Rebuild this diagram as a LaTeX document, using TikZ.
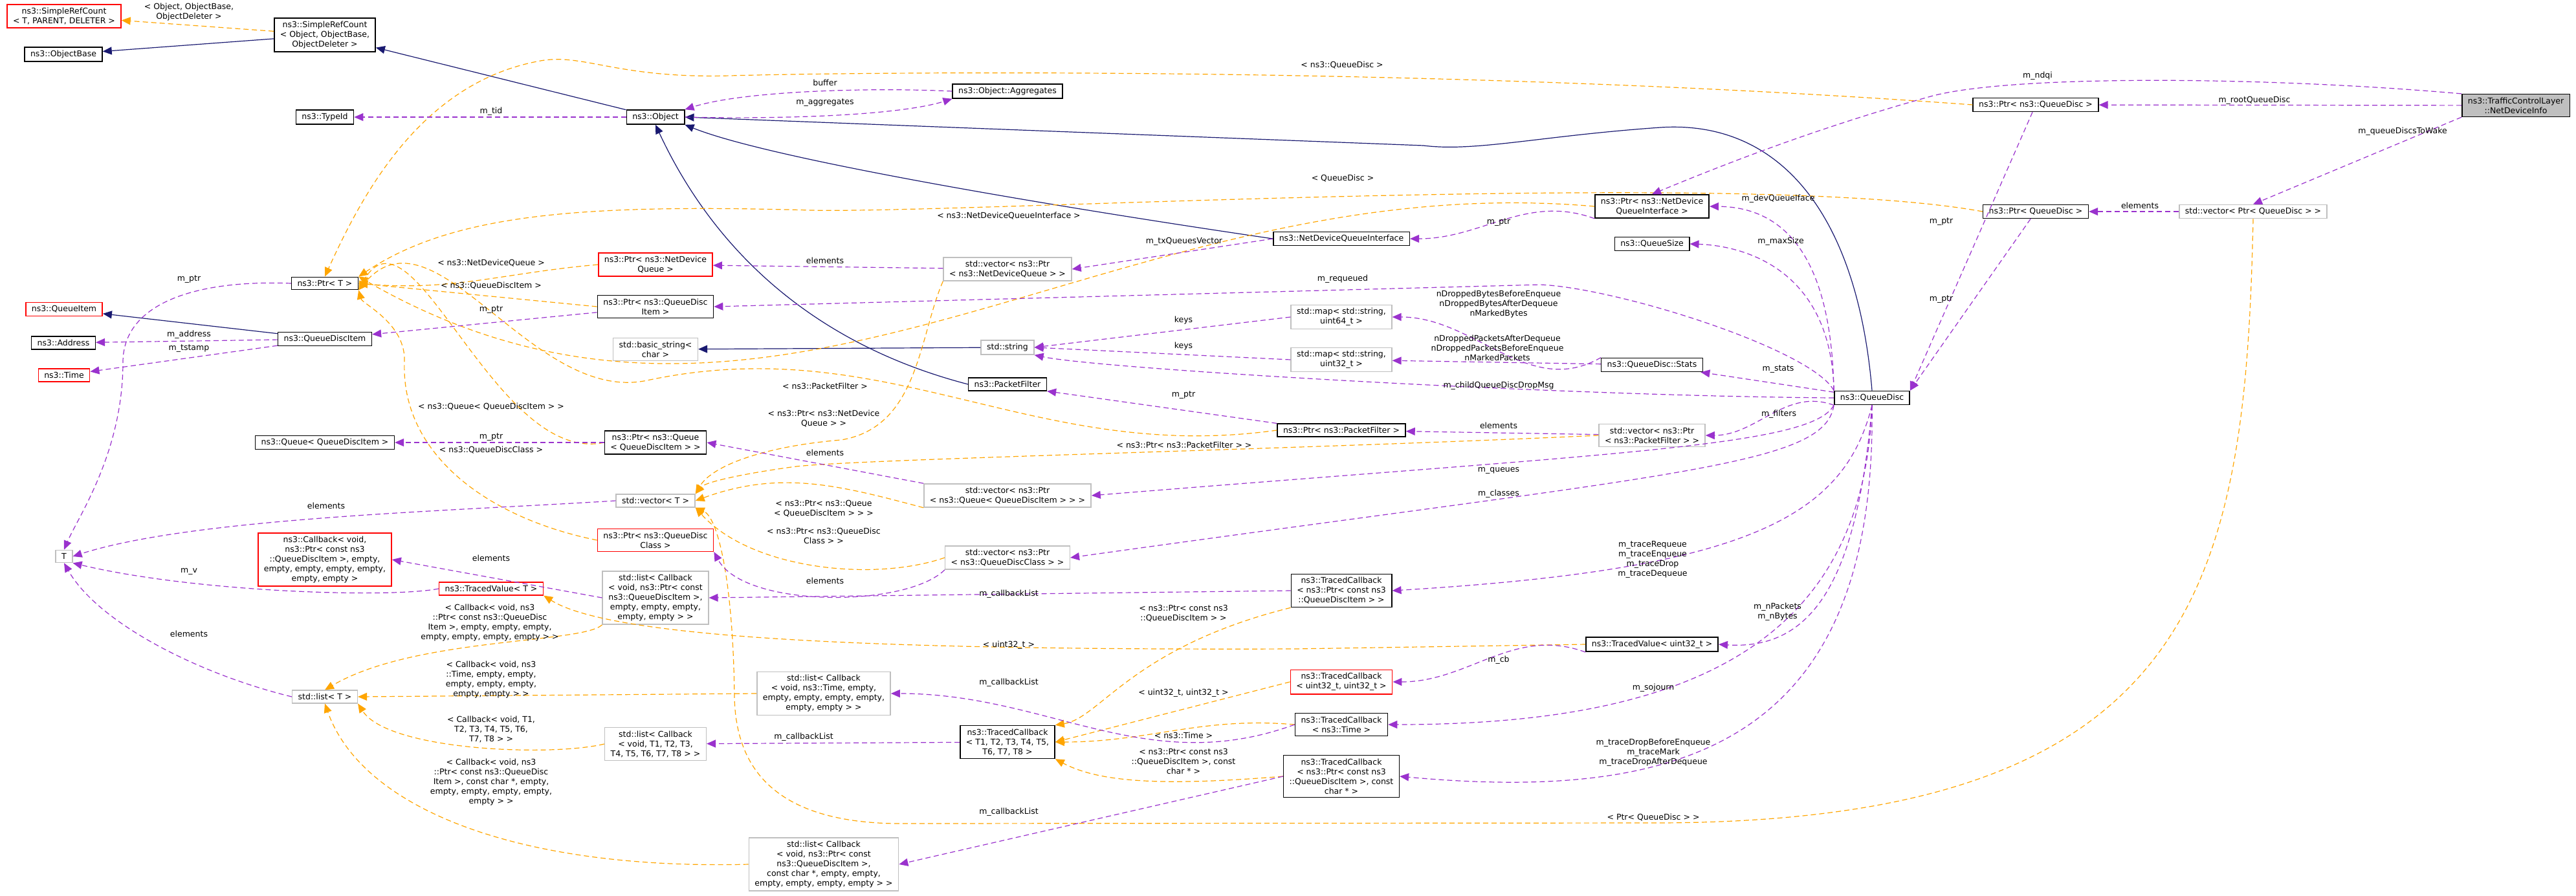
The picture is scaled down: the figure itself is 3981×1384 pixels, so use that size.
\documentclass[tikz,border=0pt]{standalone}
\usepackage{fontspec}
\setmainfont{DejaVu Sans}
\usetikzlibrary{arrows.meta}
\definecolor{inhcol}{RGB}{25,25,112}
\definecolor{usecol}{RGB}{154,50,205}
\definecolor{tplcol}{RGB}{255,165,0}
\definecolor{redcol}{RGB}{255,0,0}
\definecolor{extcol}{RGB}{191,191,191}
\tikzset{every picture/.style={line width=0.3pt}}
\tikzset{
  cls/.style={draw=black,fill=white,align=center,inner xsep=2.25pt,inner ysep=1.25pt,line width=0.375pt},
  redcls/.style={cls,draw=redcol},
  extcls/.style={cls,draw=extcol},
  curcls/.style={cls,fill=extcol},
  lbl/.style={align=center,inner sep=0.25pt},
  inh/.style={draw=inhcol,-{Triangle[length=3.5pt,width=3pt]}},
  usg/.style={draw=usecol,dash pattern=on 2pt off 1.25pt,-{Triangle[length=3.5pt,width=3pt]}},
  tpl/.style={draw=tplcol,dash pattern=on 2pt off 1.25pt,-{Triangle[length=3.5pt,width=3pt]}}
}

\begin{document}
\begin{tikzpicture}[x=0.25pt,y=0.25pt,yscale=-1,font=\fontsize{3.125}{3.75}\selectfont]
\useasboundingbox (0,0) rectangle (3981,1384);

% Classes, left column
\node[redcls] (srct) at (99,25) {ns3::SimpleRefCount\\< T, PARENT, DELETER >};
\node[cls] (objbase) at (98,84) {ns3::ObjectBase};
\node[redcls] (queueitem) at (99,478) {ns3::QueueItem};
\node[cls] (address) at (98,530) {ns3::Address};
\node[redcls] (time) at (99,580) {ns3::Time};
\node[extcls] (t) at (99,860) {T};

% second column
\node[cls] (srcobj) at (502,54) {ns3::SimpleRefCount\\< Object, ObjectBase,\\ObjectDeleter >};
\node[cls] (typeid) at (502,181) {ns3::TypeId};
\node[cls] (ptrt) at (502,438) {ns3::Ptr< T >};
\node[cls] (qditem) at (502,524) {ns3::QueueDiscItem};
\node[cls] (queueqdi) at (502,684) {ns3::Queue< QueueDiscItem >};
\node[redcls] (callback) at (502,865) {ns3::Callback< void,\\ns3::Ptr< const ns3\\::QueueDiscItem >, empty,\\empty, empty, empty, empty,\\empty, empty >};
\node[extcls] (listt) at (502,1077) {std::list< T >};
\node[redcls] (tracedvalt) at (759,910) {ns3::TracedValue< T >};

% third column
\node[cls] (object) at (1013,181) {ns3::Object};
\node[redcls] (ptrndq) at (1013,409) {ns3::Ptr< ns3::NetDevice\\Queue >};
\node[cls] (ptrqdi) at (1013,474) {ns3::Ptr< ns3::QueueDisc\\Item >};
\node[extcls] (basicstr) at (1013,540) {std::basic\_string<\\char >};
\node[cls] (ptrqueue) at (1013,684) {ns3::Ptr< ns3::Queue\\< QueueDiscItem > >};
\node[extcls] (stdvect) at (1013,774) {std::vector< T >};
\node[redcls] (ptrqdc) at (1013,835) {ns3::Ptr< ns3::QueueDisc\\Class >};
\node[extcls] (listqdi) at (1013,924) {std::list< Callback\\< void, ns3::Ptr< const\\ns3::QueueDiscItem >,\\empty, empty, empty,\\empty, empty > >};
\node[extcls] (listt18) at (1013,1150) {std::list< Callback\\< void, T1, T2, T3,\\T4, T5, T6, T7, T8 > >};

% fourth column
\node[cls] (aggregates) at (1557,141) {ns3::Object::Aggregates};
\node[extcls] (vecptrndq) at (1557,416) {std::vector< ns3::Ptr\\< ns3::NetDeviceQueue > >};
\node[extcls] (string) at (1557,537) {std::string};
\node[cls] (pktfilter) at (1557,594) {ns3::PacketFilter};
\node[extcls] (vecptrqueue) at (1557,766) {std::vector< ns3::Ptr\\< ns3::Queue< QueueDiscItem > > >};
\node[extcls] (vecptrqdc) at (1557,862) {std::vector< ns3::Ptr\\< ns3::QueueDiscClass > >};
\node[extcls] (listtime) at (1273,1072) {std::list< Callback\\< void, ns3::Time, empty,\\empty, empty, empty, empty,\\empty, empty > >};
\node[cls] (tcbt) at (1557,1147) {ns3::TracedCallback\\< T1, T2, T3, T4, T5,\\T6, T7, T8 >};
\node[extcls] (listqdichar) at (1273,1336) {std::list< Callback\\< void, ns3::Ptr< const\\ns3::QueueDiscItem >,\\const char *, empty, empty,\\empty, empty, empty, empty > >};

% fifth column
\node[cls] (ndqi) at (2073,369) {ns3::NetDeviceQueueInterface};
\node[extcls] (mapu64) at (2073,490) {std::map< std::string,\\uint64\_t >};
\node[extcls] (mapu32) at (2073,556) {std::map< std::string,\\uint32\_t >};
\node[cls] (ptrpf) at (2073,665) {ns3::Ptr< ns3::PacketFilter >};
\node[cls] (tcbqdi) at (2073,913) {ns3::TracedCallback\\< ns3::Ptr< const ns3\\::QueueDiscItem > >};
\node[redcls] (tcbu32) at (2073,1054) {ns3::TracedCallback\\< uint32\_t, uint32\_t >};
\node[cls] (tcbtime) at (2073,1120) {ns3::TracedCallback\\< ns3::Time >};
\node[cls] (tcbqdichar) at (2073,1200) {ns3::TracedCallback\\< ns3::Ptr< const ns3\\::QueueDiscItem >, const\\char * >};

% sixth column
\node[cls] (ptrndqi) at (2553,319) {ns3::Ptr< ns3::NetDevice\\QueueInterface >};
\node[cls] (queuesize) at (2553,377) {ns3::QueueSize};
\node[cls] (stats) at (2553,564) {ns3::QueueDisc::Stats};
\node[extcls] (vecpf) at (2553,673) {std::vector< ns3::Ptr\\< ns3::PacketFilter > >};
\node[cls] (tvu32) at (2553,996) {ns3::TracedValue< uint32\_t >};
\node[cls] (queuedisc) at (2893,615) {ns3::QueueDisc};

% right part
\node[cls] (ptrqdns3) at (3146,162) {ns3::Ptr< ns3::QueueDisc >};
\node[cls] (ptrqd) at (3146,327) {ns3::Ptr< QueueDisc >};
\node[extcls] (vecptrqd) at (3482,327) {std::vector< Ptr< QueueDisc > >};
\node[curcls] (tcl) at (3888,163) {ns3::TrafficControlLayer\\::NetDeviceInfo};

% Inheritance
\draw[inh] (srcobj) -- (objbase);
\draw[inh] (object) -- (srcobj);
\draw[inh] (ndqi.west) .. controls (1700,330) and (1200,250) .. (object.south east);
\draw[inh] (pktfilter.west) .. controls (1250,530) and (1100,380) .. (object.south);
\draw[inh] (queuedisc.north) .. controls (2870,330) and (2750,185) .. (2566,197) .. controls (2380,210) and (2280,235) .. (2200,225) -- (object.east);
\draw[inh] (qditem) -- (queueitem);
\draw[inh] (string) -- (basicstr);

% Template instances
\draw[tpl] (srcobj) -- (srct);
\draw[tpl] (ptrqdns3.west) .. controls (2200,100) and (1300,112) .. (1128,117) .. controls (950,122) and (900,80) .. (830,95) .. controls (650,130) and (560,300) .. (ptrt.north);
\draw[tpl] (ptrqd.west) .. controls (2700,260) and (1500,330) .. (1255,325) .. controls (900,315) and (700,330) .. (ptrt.north east);
\draw[tpl] (ptrndqi.west) to[out=185,in=30] (ptrt.north east);
\draw[tpl] (ptrndq.west) to[out=175,in=5] (ptrt.east);
\draw[tpl] (ptrqdi.west) -- (ptrt.east);
\draw[tpl] (ptrpf.west) to[out=172,in=-12] (1000,588) to[out=168,in=-50] (ptrt.south east);
\draw[tpl] (ptrqueue.west) to[out=168,in=-62] (ptrt.south east);
\draw[tpl] (ptrqdc.west) .. controls (750,800) and (620,700) .. (625,560) .. controls (628,500) and (560,470) .. (ptrt.south east);
\draw[tpl] (vecptrndq.south west) .. controls (1420,520) and (1420,660) .. (1300,680) .. controls (1180,690) and (1100,720) .. (stdvect.north east);
\draw[tpl] (vecpf.west) .. controls (2000,695) and (1300,710) .. (1223,722) .. controls (1150,732) and (1090,745) .. (stdvect.north east);
\draw[tpl] (vecptrqueue.south west) to[out=195,in=-20] (stdvect.east);
\draw[tpl] (vecptrqdc.west) .. controls (1350,900) and (1160,880) .. (stdvect.south east);
\draw[tpl] (vecptrqd.south) .. controls (3470,900) and (3400,1272) .. (2555,1272) -- (1383,1273) .. controls (1200,1270) and (1137,1190) .. (1135,1077) .. controls (1133,900) and (1110,800) .. (stdvect.south east);
\draw[tpl] (tvu32.west) -- (2000,1003) .. controls (1400,1005) and (950,990) .. (tracedvalt.south east);
\draw[tpl] (listqdi.south west) .. controls (900,995) and (640,985) .. (listt.north);
\draw[tpl] (listtime.west) -- (listt.east);
\draw[tpl] (listt18.west) .. controls (850,1170) and (600,1160) .. (listt.south east);
\draw[tpl] (listqdichar.west) .. controls (800,1345) and (560,1250) .. (listt.south);
\draw[tpl] (tcbqdi.south west) .. controls (1750,1000) and (1700,1110) .. (tcbt.north east);
\draw[tpl] (tcbu32.west) -- (tcbt.east);
\draw[tpl] (tcbtime.west) to[out=185,in=0] (tcbt.east);
\draw[tpl] (tcbqdichar.west) .. controls (1800,1215) and (1700,1210) .. (tcbt.south east);

% Members
\draw[usg] (object) -- (typeid);
\draw[usg] (aggregates.west) .. controls (1350,135) and (1150,140) .. (object.north east);
\draw[usg] (object.east) .. controls (1250,185) and (1400,175) .. (aggregates.south west);
\draw[usg] (ptrt.west) .. controls (300,432) and (190,470) .. (190,560) .. controls (190,700) and (120,800) .. (t.north);
\draw[usg] (qditem) -- (address);
\draw[usg] (qditem) -- (time);
\draw[usg] (ptrqdi) -- (qditem);
\draw[usg] (ptrqueue) -- (queueqdi);
\draw[usg] (stdvect.west) .. controls (700,790) and (300,800) .. (t.east);
\draw[usg] (tracedvalt.west) .. controls (600,925) and (300,915) .. (t.south east);
\draw[usg] (listt.west) .. controls (300,1040) and (150,960) .. (t.south);
\draw[usg] (listqdi.west) -- (callback.east);
\draw[usg] (vecptrndq) -- (ptrndq);
\draw[usg] (ndqi.west) -- (vecptrndq.east);
\draw[usg] (ptrndqi.south west) to[out=200,in=0] (ndqi.east);
\draw[usg] (vecptrqueue.north west) -- (ptrqueue.east);
\draw[usg] (vecptrqdc.south west) .. controls (1400,940) and (1150,940) .. (ptrqdc.south east);
\draw[usg] (tcbqdi.west) -- (listqdi.east);
\draw[usg] (tcbt) -- (listt18);
\draw[usg] (tcbtime.west) to[out=160,in=0] (listtime.east);
\draw[usg] (tcbqdichar.west) -- (listqdichar.east);
\draw[usg] (mapu64.west) -- (string.east);
\draw[usg] (mapu32.west) -- (string.east);
\draw[usg] (queuedisc.west) .. controls (2400,612) and (1700,570) .. (string.south east);
\draw[usg] (stats.north west) to[out=150,in=0] (mapu64.east);
\draw[usg] (stats) -- (mapu32);
\draw[usg] (queuedisc) -- (stats);
\draw[usg] (queuedisc.north west) .. controls (2830,420) and (2700,380) .. (queuesize.east);
\draw[usg] (queuedisc.north west) .. controls (2830,400) and (2760,320) .. (ptrndqi.east);
\draw[usg] (queuedisc.north west) .. controls (2800,540) and (2500,445) .. (2380,440) -- (ptrqdi.east);
\draw[usg] (queuedisc.south west) to[out=200,in=0] (vecpf.east);
\draw[usg] (vecpf) -- (ptrpf);
\draw[usg] (ptrpf.north west) -- (pktfilter.south east);
\draw[usg] (queuedisc.south west) .. controls (2800,690) and (2500,700) .. (vecptrqueue.east);
\draw[usg] (queuedisc.south west) .. controls (2820,720) and (2600,730) .. (vecptrqdc.east);
\draw[usg] (queuedisc.south) .. controls (2850,800) and (2700,880) .. (tcbqdi.east);
\draw[usg] (queuedisc.south) .. controls (2870,900) and (2800,1005) .. (tvu32.east);
\draw[usg] (tvu32.south west) to[out=200,in=0] (tcbu32.east);
\draw[usg] (queuedisc.south) .. controls (2880,1000) and (2600,1120) .. (tcbtime.east);
\draw[usg] (queuedisc.south) .. controls (2900,1150) and (2600,1240) .. (tcbqdichar.east);
\draw[usg] (ptrqdns3) -- (queuedisc.north east);
\draw[usg] (ptrqd) -- (queuedisc.north east);
\draw[usg] (vecptrqd) -- (ptrqd);
\draw[usg] (tcl) -- (ptrqdns3);
\draw[usg] (tcl.north west) .. controls (3500,118) and (3100,115) .. (2980,150) .. controls (2800,200) and (2650,260) .. (ptrndqi.north);
\draw[usg] (tcl.south west) -- (vecptrqd.north);

% Text Nodes
\node[lbl] (l1) at (292,19) {< Object, ObjectBase,\\ObjectDeleter >};
\node[lbl] (l2) at (759,172) {m\_tid};
\node[lbl] (l3) at (1275,128) {buffer};
\node[lbl] (l4) at (1275,159) {m\_aggregates};
\node[lbl] (l5) at (2074,101) {< ns3::QueueDisc >};
\node[lbl] (l6) at (3149,117) {m\_ndqi};
\node[lbl] (l7) at (3484,155) {m\_rootQueueDisc};
\node[lbl] (l8) at (3713,203) {m\_queueDiscsToWake};
\node[lbl] (l9) at (2075,276) {< QueueDisc >};
\node[lbl] (l10) at (1559,334) {< ns3::NetDeviceQueueInterface >};
\node[lbl] (l11) at (2748,307) {m\_devQueueIface};
\node[lbl] (l12) at (2316,344) {m\_ptr};
\node[lbl] (l13) at (2752,373) {m\_maxSize};
\node[lbl] (l14) at (1830,373) {m\_txQueuesVector};
\node[lbl] (l15) at (1275,403) {elements};
\node[lbl] (l16) at (759,407) {< ns3::NetDeviceQueue >};
\node[lbl] (l17) at (292,432) {m\_ptr};
\node[lbl] (l18) at (759,442) {< ns3::QueueDiscItem >};
\node[lbl] (l19) at (2075,431) {m\_requeued};
\node[lbl] (l20) at (2316,470) {nDroppedBytesBeforeEnqueue\\nDroppedBytesAfterDequeue\\nMarkedBytes};
\node[lbl] (l21) at (759,479) {m\_ptr};
\node[lbl] (l22) at (1829,495) {keys};
\node[lbl] (l23) at (292,517) {m\_address};
\node[lbl] (l24) at (1829,535) {keys};
\node[lbl] (l25) at (2314,538) {nDroppedPacketsAfterDequeue\\nDroppedPacketsBeforeEnqueue\\nMarkedPackets};
\node[lbl] (l26) at (292,539) {m\_tstamp};
\node[lbl] (l27) at (2748,571) {m\_stats};
\node[lbl] (l28) at (2316,596) {m\_childQueueDiscDropMsg};
\node[lbl] (l29) at (1275,597) {< ns3::PacketFilter >};
\node[lbl] (l30) at (1829,611) {m\_ptr};
\node[lbl] (l31) at (3000,343) {m\_ptr};
\node[lbl] (l32) at (3307,318) {elements};
\node[lbl] (l33) at (3000,463) {m\_ptr};
\node[lbl] (l34) at (759,629) {< ns3::Queue< QueueDiscItem > >};
\node[lbl] (l35) at (2749,640) {m\_filters};
\node[lbl] (l36) at (1273,647) {< ns3::Ptr< ns3::NetDevice\\Queue > >};
\node[lbl] (l37) at (2316,658) {elements};
\node[lbl] (l38) at (759,676) {m\_ptr};
\node[lbl] (l39) at (1830,688) {< ns3::Ptr< ns3::PacketFilter > >};
\node[lbl] (l40) at (759,696) {< ns3::QueueDiscClass >};
\node[lbl] (l41) at (1275,700) {elements};
\node[lbl] (l42) at (2316,727) {m\_queues};
\node[lbl] (l43) at (2316,763) {m\_classes};
\node[lbl] (l44) at (504,782) {elements};
\node[lbl] (l45) at (1273,786) {< ns3::Ptr< ns3::Queue\\< QueueDiscItem > > >};
\node[lbl] (l46) at (1273,828) {< ns3::Ptr< ns3::QueueDisc\\Class > >};
\node[lbl] (l47) at (759,863) {elements};
\node[lbl] (l48) at (2554,865) {m\_traceRequeue\\m\_traceEnqueue\\m\_traceDrop\\m\_traceDequeue};
\node[lbl] (l49) at (292,883) {m\_v};
\node[lbl] (l50) at (1275,898) {elements};
\node[lbl] (l51) at (1559,918) {m\_callbackList};
\node[lbl] (l52) at (1829,948) {< ns3::Ptr< const ns3\\::QueueDiscItem > >};
\node[lbl] (l53) at (2747,946) {m\_nPackets\\m\_nBytes};
\node[lbl] (l54) at (757,963) {< Callback< void, ns3\\::Ptr< const ns3::QueueDisc\\Item >, empty, empty, empty,\\empty, empty, empty, empty > >};
\node[lbl] (l55) at (292,980) {elements};
\node[lbl] (l56) at (1559,997) {< uint32\_t >};
\node[lbl] (l57) at (2316,1020) {m\_cb};
\node[lbl] (l58) at (759,1051) {< Callback< void, ns3\\::Time, empty, empty,\\empty, empty, empty,\\empty, empty > >};
\node[lbl] (l59) at (1559,1055) {m\_callbackList};
\node[lbl] (l60) at (2555,1063) {m\_sojourn};
\node[lbl] (l61) at (1829,1071) {< uint32\_t, uint32\_t >};
\node[lbl] (l62) at (759,1127) {< Callback< void, T1,\\T2, T3, T4, T5, T6,\\T7, T8 > >};
\node[lbl] (l63) at (1829,1137) {< ns3::Time >};
\node[lbl] (l64) at (1242,1139) {m\_callbackList};
\node[lbl] (l65) at (2555,1163) {m\_traceDropBeforeEnqueue\\m\_traceMark\\m\_traceDropAfterDequeue};
\node[lbl] (l66) at (1829,1177) {< ns3::Ptr< const ns3\\::QueueDiscItem >, const\\char * >};
\node[lbl] (l67) at (759,1209) {< Callback< void, ns3\\::Ptr< const ns3::QueueDisc\\Item >, const char *, empty,\\empty, empty, empty, empty,\\empty > >};
\node[lbl] (l68) at (1559,1255) {m\_callbackList};
\node[lbl] (l69) at (2555,1264) {< Ptr< QueueDisc > >};

\end{tikzpicture}
\end{document}
